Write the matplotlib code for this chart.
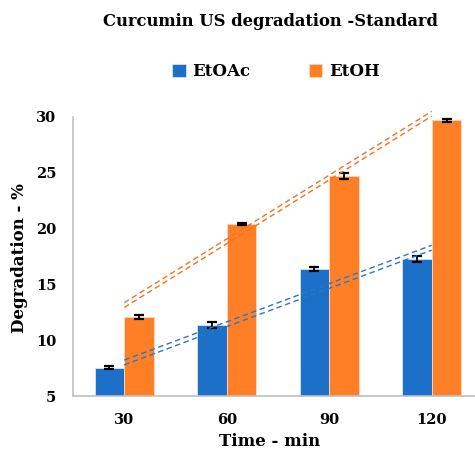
"""Curcumin US degradation bar chart"""
import numpy as np
import matplotlib
matplotlib.use("Agg")
import matplotlib.pyplot as plt
import matplotlib.transforms as mtransforms

# データ
times = ["30", "60", "90", "120"]
etoac = [7.55, 11.36, 16.38, 17.3]
etoac_err = [0.1, 0.25, 0.2, 0.25]
etoh = [12.08, 20.4, 24.7, 29.7]
etoh_err = [0.15, 0.1, 0.25, 0.15]

blue = "#1c70c8"
orange = "#ff7f27"
blue_trend = "#2a78c4"
orange_trend = "#ec7424"

plt.rcParams["font.family"] = ["DejaVu Serif"]

fig = plt.figure(figsize=[4.75, 4.55], dpi=100)
# 右端は画像の外まで伸びる
ax = fig.add_axes([73 / 475, 59 / 455, 410 / 475, 279 / 455])

x = np.arange(len(times))
w = 0.288
ax.bar(x - w / 2, etoac, w, color=blue, edgecolor="#d6e4f3", linewidth=0.6,
       label="EtOAc", zorder=2)
ax.bar(x + w / 2, etoh, w, color=orange, edgecolor="#ffd9bf", linewidth=0.6,
       label="EtOH", zorder=2)
ax.errorbar(x - w / 2, etoac, yerr=etoac_err, fmt="none", ecolor="black",
            elinewidth=1.3, capsize=3.5, capthick=1.6, zorder=3)
ax.errorbar(x + w / 2, etoh, yerr=etoh_err, fmt="none", ecolor="black",
            elinewidth=1.3, capsize=3.5, capthick=1.6, zorder=3)

# 線形近似（二重破線）
for vals, col in [(etoac, blue_trend), (etoh, orange_trend)]:
    k, b = np.polyfit(x + 1, vals, 1)
    yy = k * (x + 1) + b
    for dy in (-2.4, 2.4):
        tr = ax.transData + mtransforms.ScaledTranslation(0, dy / 100,
                                                          fig.dpi_scale_trans)
        ax.plot(x, yy, color=col, ls=(0, (4, 2.5)), lw=1.0, transform=tr,
                clip_on=False, zorder=4)

ax.set_xlim(-0.5, 3.5)
ax.set_ylim(5, 30)
ax.set_yticks([5, 10, 15, 20, 25, 30])
ax.set_xticks(x)
ax.set_xticklabels(times)
ax.tick_params(axis="y", length=0, labelsize=10.5, pad=12)
ax.tick_params(axis="x", length=0, labelsize=10.5, pad=12)
for lab in ax.get_xticklabels() + ax.get_yticklabels():
    lab.set_fontweight("bold")
for s in ["top", "right"]:
    ax.spines[s].set_visible(False)
for s in ["left", "bottom"]:
    ax.spines[s].set_color("#bfbfbf")
    ax.spines[s].set_linewidth(1.2)

fig.text(270 / 475, 1 - 21 / 455, "Curcumin US degradation -Standard",
         ha="center", va="center", fontsize=11.8, fontweight="bold")
fig.text(270 / 475, 1 - 442 / 455, "Time - min", ha="center", va="center",
         fontsize=12, fontweight="bold")
fig.text(20 / 475, 1 - 258 / 455, "Degradation - %", ha="center",
         va="center", rotation=90, fontsize=12, fontweight="bold")

fig.legend(loc="center", bbox_to_anchor=(276 / 475, 1 - 72 / 455), ncol=2,
           frameon=False, handlelength=0.8, handleheight=0.8,
           columnspacing=3.5, handletextpad=0.4,
           prop={"weight": "bold", "size": 12})

fig.savefig("out.png", dpi=100)
